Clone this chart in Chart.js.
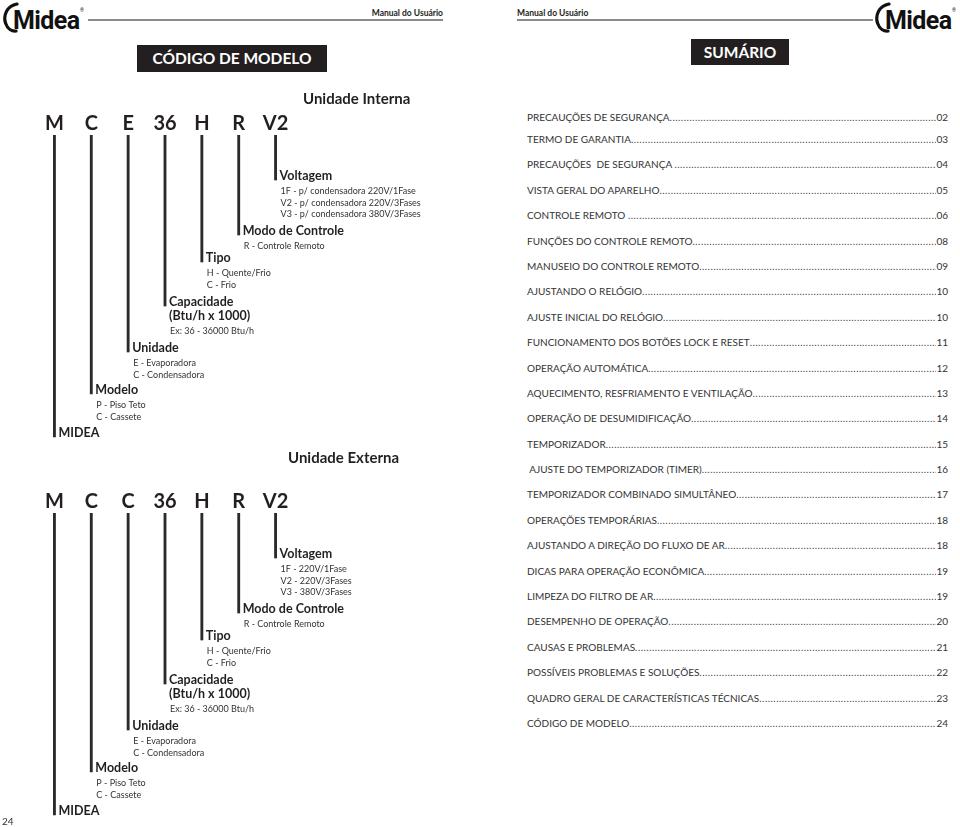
<!DOCTYPE html>
<html>
<head>
<meta charset="utf-8">
<script src="https://cdn.jsdelivr.net/npm/chart.js@4.4.6/dist/chart.umd.min.js"></script>
<style>
  body { margin: 0; background: #fff; }
  #page { position: relative; width: 960px; height: 827px; overflow: hidden; font-family: Lato, 'Open Sans', sans-serif; color: #231f20; }
  .abs { position: absolute; white-space: nowrap; }
  .hdr { font-weight: 700; font-size: 8.5px; line-height: 10px; }
  .rule { height: 1.5px; background: #8c8c8c; }
  .box { background: #231f20; color: #fff; font-weight: 700; font-size: 15.5px; text-align: center; }
  .unit { font-weight: 700; font-size: 15px; line-height: 18px; }
  .toc { position: absolute; left: 527px; width: 421px; display: flex; font-size: 10px; line-height: 12px; color: #333; white-space: pre; }
  .toc .dots { flex: 1; overflow: hidden; color: #444; letter-spacing: 0.45px; }
  canvas { position: absolute; }
</style>
</head>
<body>
<div id="page">
  <!-- cabeçalho esquerdo -->
  <svg class="abs" style="left:2px;top:1px" width="84" height="32" viewBox="0 0 84 32">
    <path d="M15 3 C5 5 1 14 3.5 22 C5.5 28 10 30.5 14 30" fill="none" stroke="#111" stroke-width="3.2" stroke-linecap="round"/>
    <text x="11" y="28" font-family="Roboto" font-weight="700" font-size="25" fill="#111" letter-spacing="-0.6">Midea</text>
    <text x="78" y="11" font-family="Roboto" font-size="5" fill="#111">®</text>
  </svg>
  <div class="abs rule" style="left:88px;top:19px;width:355px"></div>
  <div class="abs hdr" style="left:343px;top:8px;width:100px;text-align:right">Manual do Usuário</div>
  <div class="abs box" style="left:137px;top:45px;width:190px;height:27px;line-height:27px">CÓDIGO DE MODELO</div>

  <!-- cabeçalho direito -->
  <div class="abs hdr" style="left:517px;top:8px">Manual do Usuário</div>
  <div class="abs rule" style="left:517px;top:19px;width:356px"></div>
  <svg class="abs" style="left:874px;top:1px" width="86" height="32" viewBox="0 0 86 32">
    <path d="M15 3 C5 5 1 14 3.5 22 C5.5 28 10 30.5 14 30" fill="none" stroke="#111" stroke-width="3.2" stroke-linecap="round"/>
    <text x="11" y="28" font-family="Roboto" font-weight="700" font-size="25" fill="#111" letter-spacing="-0.6">Midea</text>
    <text x="78" y="11" font-family="Roboto" font-size="5" fill="#111">®</text>
  </svg>
  <div class="abs box" style="left:691px;top:39px;width:98px;height:26px;line-height:26px">SUMÁRIO</div>

  <canvas id="treeInterna" width="480" height="380" style="left:0;top:80px"></canvas>
  <canvas id="treeExterna" width="480" height="380" style="left:0;top:458px"></canvas>

  <div class="abs unit" style="left:303px;top:89px">Unidade Interna</div>
  <div class="abs unit" style="left:288px;top:448px">Unidade Externa</div>

  <div class="abs" style="left:2px;top:815px;font-size:10px;line-height:12px;color:#333">24</div>
</div>

<script>
// código do modelo (categorias do eixo x)
const codeInterna = ['M', 'C', 'E', '36', 'H', 'R', 'V2']
const codeExterna = ['M', 'C', 'C', '36', 'H', 'R', 'V2']

// comprimento de cada haste
const legLength = [302, 259, 217, 171, 127, 100, 45]

const fieldTitles = [
  ['MIDEA'],
  ['Modelo'],
  ['Unidade'],
  ['Capacidade', '(Btu/h x 1000)'],
  ['Tipo'],
  ['Modo de Controle'],
  ['Voltagem']
]

const commonNotes = [
  [],
  ['P - Piso Teto', 'C - Cassete'],
  ['E - Evaporadora', 'C - Condensadora'],
  ['Ex: 36 - 36000 Btu/h'],
  ['H - Quente/Frio', 'C - Frio'],
  ['R - Controle Remoto']
]
const voltInterna = ['1F - p/ condensadora 220V/1Fase', 'V2 - p/ condensadora 220V/3Fases', 'V3 - p/ condensadora 380V/3Fases']
const voltExterna = ['1F - 220V/1Fase', 'V2 - 220V/3Fases', 'V3 - 380V/3Fases']

// sumário
const tocTitles = [
  'PRECAUÇÕES DE SEGURANÇA', 'TERMO DE GARANTIA', 'PRECAUÇÕES  DE SEGURANÇA ', 'VISTA GERAL DO APARELHO',
  'CONTROLE REMOTO ', 'FUNÇÕES DO CONTROLE REMOTO', 'MANUSEIO DO CONTROLE REMOTO', 'AJUSTANDO O RELÓGIO',
  'AJUSTE INICIAL DO RELÓGIO', 'FUNCIONAMENTO DOS BOTÕES LOCK E RESET', 'OPERAÇÃO AUTOMÁTICA',
  'AQUECIMENTO, RESFRIAMENTO E VENTILAÇÃO', 'OPERAÇÃO DE DESUMIDIFICAÇÃO', 'TEMPORIZADOR',
  ' AJUSTE DO TEMPORIZADOR (TIMER)', 'TEMPORIZADOR COMBINADO SIMULTÂNEO', 'OPERAÇÕES TEMPORÁRIAS',
  'AJUSTANDO A DIREÇÃO DO FLUXO DE AR', 'DICAS PARA OPERAÇÃO ECONÔMICA', 'LIMPEZA DO FILTRO DE AR',
  'DESEMPENHO DE OPERAÇÃO', 'CAUSAS E PROBLEMAS', 'POSSÍVEIS PROBLEMAS E SOLUÇÕES',
  'QUADRO GERAL DE CARACTERÍSTICAS TÉCNICAS', 'CÓDIGO DE MODELO'
]
const tocPages = ['02', '03', '04', '05', '06', '08', '09', '10', '10', '11', '12', '13', '14', '15', '16', '17', '18', '18', '19', '19', '20', '21', '22', '23', '24']

const page = document.getElementById('page')
tocTitles.forEach((t, i) => {
  const row = document.createElement('div')
  row.className = 'toc'
  row.style.top = (i === 0 ? 111 : 133 + (i - 1) * 25.39) + 'px'
  const a = document.createElement('span'); a.textContent = t
  const d = document.createElement('span'); d.className = 'dots'; d.textContent = '.'.repeat(200)
  const n = document.createElement('span'); n.textContent = tocPages[i]
  row.append(a, d, n)
  page.appendChild(row)
})

// rótulos da árvore: letras do código + campos ao pé de cada haste
const treeLabels = (codes, notes) => ({
  id: 'treeLabels',
  afterDraw (chart) {
    const { ctx, scales: { x, y } } = chart
    ctx.save()
    ctx.fillStyle = '#231f20'
    ctx.textBaseline = 'alphabetic'
    ctx.textAlign = 'center'
    ctx.font = '700 20px Lato'
    codes.forEach((c, i) => ctx.fillText(c, x.getPixelForValue(i), 50))
    ctx.textAlign = 'left'
    fieldTitles.forEach((lines, i) => {
      const px = x.getPixelForValue(i) + 4
      let py = y.getPixelForValue(legLength[i])
      ctx.font = '700 12.5px Lato'
      ctx.fillStyle = '#231f20'
      lines.forEach(t => { ctx.fillText(t, px, py); py += 14 })
      ctx.font = '9px Lato'
      ctx.fillStyle = '#333'
      notes[i].forEach(t => { ctx.fillText(t, px + 1, py); py += 11.7 })
    })
    ctx.restore()
  }
})

function makeTree (id, codes, volt) {
  const notes = commonNotes.concat([volt])
  return new Chart(document.getElementById(id), {
    type: 'bar',
    data: {
      labels: codes,
      datasets: [{
        data: legLength.map(v => [0, v]),
        backgroundColor: '#2a2a2a',
        borderWidth: 0,
        barThickness: 2.2
      }]
    },
    options: {
      responsive: false,
      animation: false,
      layout: { padding: { left: 36, right: 186, top: 55, bottom: 5 } },
      plugins: { legend: { display: false }, tooltip: { enabled: false } },
      scales: {
        x: { display: false },
        y: { display: false, min: 0, max: 320, reverse: true }
      }
    },
    plugins: [treeLabels(codes, notes)]
  })
}

makeTree('treeInterna', codeInterna, voltInterna)
makeTree('treeExterna', codeExterna, voltExterna)
</script>
</body>
</html>
